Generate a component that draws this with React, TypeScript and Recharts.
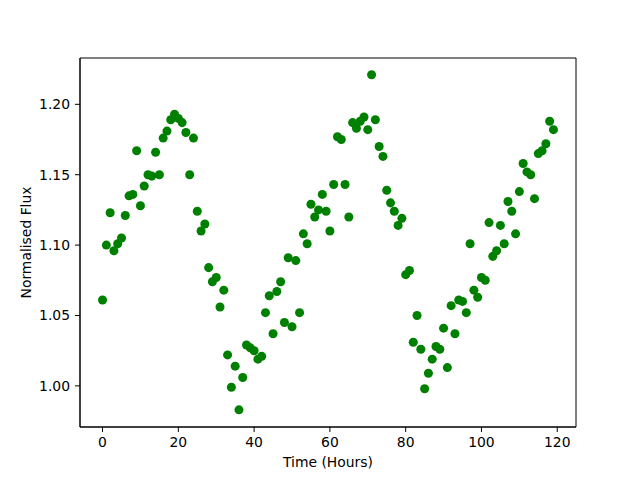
import {
  ScatterChart,
  Scatter,
  XAxis,
  YAxis,
  ZAxis,
  ReferenceArea,
  Label,
} from "recharts";

// one reading per hour, starting at hour 0
const flux = [
  1.061, 1.1, 1.123, 1.096, 1.101, 1.105, 1.121, 1.135, 1.136, 1.167,
  1.128, 1.142, 1.15, 1.149, 1.166, 1.15, 1.176, 1.181, 1.189, 1.193,
  1.19, 1.187, 1.18, 1.15, 1.176, 1.124, 1.11, 1.115, 1.084, 1.074,
  1.077, 1.056, 1.068, 1.022, 0.999, 1.014, 0.983, 1.006, 1.029, 1.027,
  1.025, 1.019, 1.021, 1.052, 1.064, 1.037, 1.067, 1.074, 1.045, 1.091,
  1.042, 1.089, 1.052, 1.108, 1.101, 1.129, 1.12, 1.125, 1.136, 1.124,
  1.11, 1.143, 1.177, 1.175, 1.143, 1.12, 1.187, 1.183, 1.188, 1.191,
  1.182, 1.221, 1.189, 1.17, 1.163, 1.139, 1.13, 1.124, 1.114, 1.119,
  1.079, 1.082, 1.031, 1.05, 1.026, 0.998, 1.009, 1.019, 1.028, 1.026,
  1.041, 1.013, 1.057, 1.037, 1.061, 1.06, 1.052, 1.101, 1.068, 1.063,
  1.077, 1.075, 1.116, 1.092, 1.096, 1.114, 1.101, 1.131, 1.124, 1.108,
  1.138, 1.158, 1.152, 1.15, 1.133, 1.165, 1.167, 1.172, 1.188, 1.182,
];

const xTicks = [0, 20, 40, 60, 80, 100, 120];
const yTicks = [1.0, 1.05, 1.1, 1.15, 1.2];

const xDomain: [number, number] = [-5.95, 124.95];
const yDomain: [number, number] = [0.9708, 1.2329];

const font = "'DejaVu Sans', sans-serif";
const tickStyle = { fill: "#000", fontSize: 13.9, fontFamily: font };

export default function App() {
  const data = flux.map((f, hour) => ({ hour, flux: f }));

  return (
    <div style={{ position: "absolute", left: 0, top: 0, width: 640, height: 480, background: "#fff" }}>
      <ScatterChart
        width={640}
        height={480}
        margin={{ top: 58, right: 64, left: 20, bottom: 8 }}
      >
        <XAxis
          type="number"
          dataKey="hour"
          domain={xDomain}
          ticks={xTicks}
          allowDataOverflow
          height={45}
          stroke="#000"
          tickSize={5}
          tickMargin={5}
          tick={tickStyle}
        >
          <Label
            value="Time (Hours)"
            position="insideBottom"
            offset={5}
            style={{ fill: "#000", fontSize: 13.9, fontFamily: font }}
          />
        </XAxis>
        <YAxis
          type="number"
          dataKey="flux"
          domain={yDomain}
          ticks={yTicks}
          allowDataOverflow
          width={60}
          stroke="#000"
          tickSize={5}
          tickMargin={5}
          tick={tickStyle}
          tickFormatter={(v: number) => v.toFixed(2)}
        >
          <Label
            value="Normalised Flux"
            angle={-90}
            position="insideLeft"
            offset={6}
            style={{ fill: "#000", fontSize: 13.9, fontFamily: font, textAnchor: "middle" }}
          />
        </YAxis>
        <ZAxis range={[55, 55]} />
        <ReferenceArea
          x1={xDomain[0]}
          x2={xDomain[1]}
          y1={yDomain[0]}
          y2={yDomain[1]}
          fill="none"
          stroke="#000"
          strokeWidth={1}
        />
        <Scatter data={data} fill="#008000" isAnimationActive={false} />
      </ScatterChart>
    </div>
  );
}
